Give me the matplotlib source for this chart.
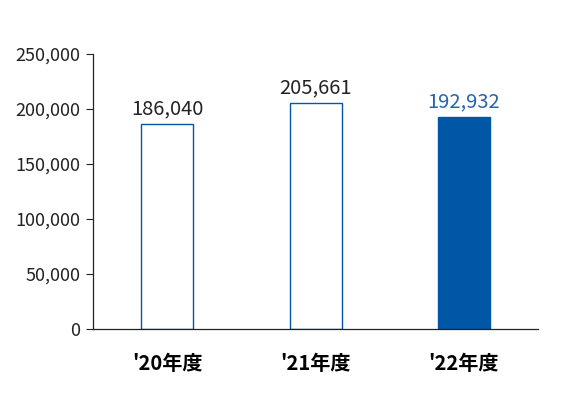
import matplotlib
matplotlib.use("Agg")
import matplotlib.pyplot as plt
from matplotlib.ticker import FuncFormatter

plt.rcParams['font.family'] = ['Noto Sans CJK JP', 'DejaVu Sans']

categories = ["'20年度", "'21年度", "'22年度"]
values = [186040, 205661, 192932]
yticks = [0, 50000, 100000, 150000, 200000, 250000]

blue = '#0057a6'
fig = plt.figure(figsize=(5.8, 4.2), dpi=100)
ax = fig.add_axes([0.160, 0.2167, 0.768, 0.6547])

x = list(range(len(categories)))
faces = ['white', 'white', blue]
ax.bar(x, values, width=0.35, color=faces, edgecolor=blue, linewidth=1.0)

label_colors = ['#222222', '#222222', '#2a64a8']
for xi, v, c in zip(x, values, label_colors):
    ax.text(xi, v + 4500, f"{v:,}", ha='center', va='bottom', fontsize=14.5, color=c)

ax.set_xlim(-0.5, 2.5)
ax.set_ylim(0, 250000)
ax.set_yticks(yticks)
ax.yaxis.set_major_formatter(FuncFormatter(lambda v, p: f"{int(v):,}"))
ax.set_xticks(x)
ax.set_xticklabels(categories, fontsize=14.5, fontweight='bold')
ax.tick_params(axis='x', length=0, pad=17)
ax.tick_params(axis='y', length=5, labelsize=13, colors='#222222', width=0.8, pad=4)
for s in ['top', 'right']:
    ax.spines[s].set_visible(False)
for s in ['left', 'bottom']:
    ax.spines[s].set_linewidth(0.9)
    ax.spines[s].set_color('#222222')

fig.savefig('out.png', dpi=100)
